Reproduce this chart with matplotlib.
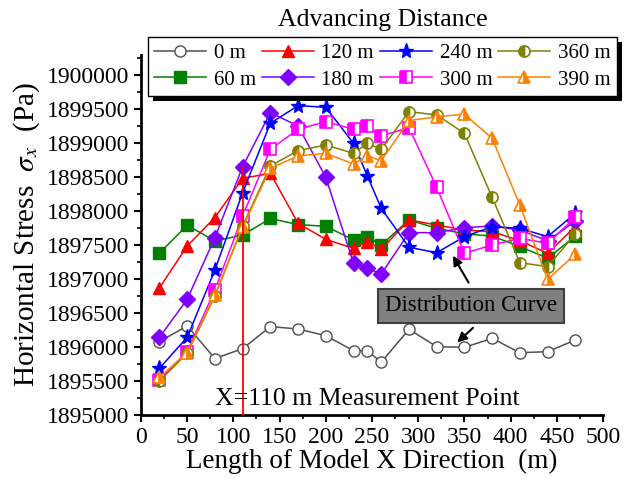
import matplotlib
matplotlib.use('Agg')
import matplotlib.pyplot as plt
from matplotlib.ticker import MultipleLocator, FuncFormatter
from matplotlib.patches import Rectangle

plt.rcParams['font.family'] = ['Liberation Serif', 'DejaVu Serif']
plt.rcParams['mathtext.fontset'] = 'stix'

# positions along the model (m)
x_pos = [20, 50, 80, 110, 140, 170, 200, 230, 245, 260, 290, 320, 350, 380, 410, 440, 470]

# horizontal stress (Pa) for each advancing distance
s_0 = [1896080, 1896310, 1895830, 1895975, 1896300, 1896265, 1896166, 1895946, 1895946, 1895775,
       1896260, 1896005, 1895995, 1896127, 1895916, 1895931, 1896103]
s_60 = [1897380, 1897790, 1897560, 1897645, 1897890, 1897800, 1897775, 1897575, 1897620, 1897500,
        1897868, 1897745, 1897665, 1897630, 1897478, 1897305, 1897630]
s_120 = [1896870, 1897485, 1897904, 1898480, 1898554, 1897819, 1897583, 1897451, 1897549, 1897436,
         1897868, 1897794, 1897720, 1897696, 1897564, 1897378, 1897770]
s_180 = [1896143, 1896701, 1897608, 1898652, 1899446, 1899250, 1898495, 1897230, 1897157, 1897073,
         1897681, 1897681, 1897755, 1897779, 1897720, 1897560, 1897850]
s_240 = [1895687, 1896143, 1897132, 1898269, 1899290, 1899549, 1899525, 1898995, 1898515, 1898039,
         1897466, 1897387, 1897622, 1897770, 1897745, 1897622, 1897966]
s_300 = [1895515, 1895931, 1896838, 1897926, 1898907, 1899201, 1899314, 1899201, 1899255, 1899103,
         1899225, 1898348, 1897378, 1897500, 1897598, 1897525, 1897907]
s_360 = [1895500, 1895907, 1896750, 1897779, 1898662, 1898887, 1898970, 1898848, 1898995, 1898907,
         1899461, 1899412, 1899142, 1898201, 1897240, 1897181, 1897662]
s_390 = [1895554, 1895917, 1896765, 1897760, 1898628, 1898809, 1898848, 1898691, 1898809, 1898740,
         1899328, 1899387, 1899422, 1899069, 1898088, 1896995, 1897363]

labels = ['0 m', '60 m', '120 m', '180 m', '240 m', '300 m', '360 m', '390 m']
colors = ['#505050', '#008000', '#ff0000', '#8000ff', '#0000ff', '#ff00ff', '#808000', '#ff8000']
markers = ['o', 's', '^', 'D', '*', 's', 'o', '^']
msizes = [8, 8, 9, 8, 11, 8, 8, 9]
fills = ['none', 'full', 'full', 'full', 'full', 'left', 'left', 'right']
series = [s_0, s_60, s_120, s_180, s_240, s_300, s_360, s_390]

measure_x = 110

fig = plt.figure(figsize=(6.26, 4.86), dpi=100)
ax = fig.add_axes([0.2252, 0.1461, 0.7381, 0.7416])

handles = []
for ys, lab, c, m, ms, fs in zip(series, labels, colors, markers, msizes, fills):
    if fs == 'none':
        h, = ax.plot(x_pos, ys, color=c, lw=1.1, marker=m, ms=ms, mfc='white', mec=c, mew=1.0, label=lab)
    elif fs == 'full':
        h, = ax.plot(x_pos, ys, color=c, lw=1.1, marker=m, ms=ms, mfc=c, mec=c, label=lab)
    else:
        h, = ax.plot(x_pos, ys, color=c, lw=1.1, marker=m, ms=ms, fillstyle=fs, mfc=c,
                     markerfacecoloralt='white', mec=c, mew=1.2, label=lab)
    handles.append(h)

# measurement point line
ax.plot([measure_x, measure_x], [1895000, 1898650], color='#ff0000', lw=1.3, zorder=6)
ax.text(80, 1895240, 'X=110 m Measurement Point', fontsize=18.5, ha='left', va='center', zorder=7)

# annotation box with two arrows
box = dict(boxstyle='square,pad=0.3', fc='#808080', ec='#404040', lw=1.5)
ax.text(357, 1896603, 'Distribution Curve', fontsize=16.5, ha='center', va='center', bbox=box, zorder=8)
ax.annotate('', xy=(336, 1897378), xytext=(356, 1896912),
            arrowprops=dict(arrowstyle='-|>', color='black', lw=1.5, mutation_scale=14), zorder=8)
ax.annotate('', xy=(340, 1896040), xytext=(361.5, 1896309),
            arrowprops=dict(arrowstyle='-|>', color='black', lw=1.5, mutation_scale=14), zorder=8)

ax.set_xlim(0, 500)
ax.set_ylim(1895000, 1900300)
ax.xaxis.set_major_locator(MultipleLocator(50))
ax.xaxis.set_minor_locator(MultipleLocator(25))
ax.yaxis.set_major_locator(MultipleLocator(500))
ax.yaxis.set_minor_locator(MultipleLocator(250))
ax.yaxis.set_major_formatter(FuncFormatter(lambda v, p: f'{int(round(v))}' if v <= 1900000 else ''))

for side in ['top', 'right']:
    ax.spines[side].set_visible(False)
for side in ['left', 'bottom']:
    ax.spines[side].set_linewidth(2)
ax.tick_params(which='major', direction='out', length=5, width=1.5, labelsize=17)
ax.tick_params(which='minor', direction='out', length=3, width=1.2)

ax.set_xlabel('Length of Model X Direction  (m)', fontsize=19.5, labelpad=1)
ax.set_ylabel(r'Horizontal Stress  $\sigma_x$  (Pa)', fontsize=21)
ax.yaxis.set_label_coords(-0.214, 0.5)

# legend laid out column-wise: 0/60, 120/180, 240/300, 360/390
leg = ax.legend(handles=handles, ncol=4, loc='upper left', bbox_to_anchor=(148 / 626, 1 - 37 / 486),
                bbox_transform=fig.transFigure,
                fontsize=15, frameon=True, fancybox=False, edgecolor='black', framealpha=1,
                handlelength=2.5, handletextpad=0.35, columnspacing=0.3, borderpad=0.3,
                labelspacing=0.35, borderaxespad=0)
leg.get_frame().set_linewidth(1.0)
leg.set_zorder(10)

fig.canvas.draw()
bb = leg.get_window_extent()
shadow = Rectangle((bb.x0 + 5, bb.y0 - 5), bb.width, bb.height, transform=None,
                   facecolor='black', edgecolor='none', zorder=9.9, clip_on=False)
ax.add_artist(shadow)
fig.text((bb.x0 + bb.x1) / 2 / fig.bbox.width, 1 - 20 / 486, 'Advancing Distance',
         fontsize=18.5, ha='center', va='center')

fig.savefig('out.png', dpi=100)
